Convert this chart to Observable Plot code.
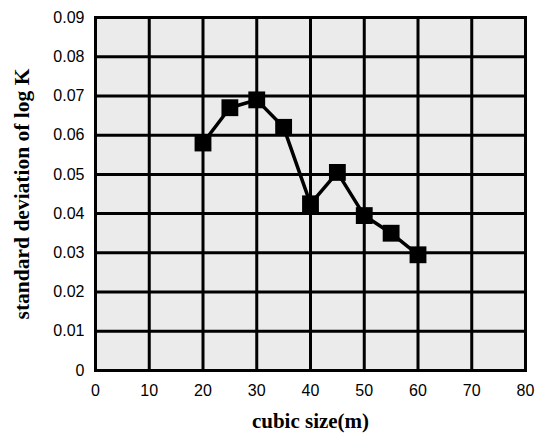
<!DOCTYPE html>
<html>
<head>
<meta charset="utf-8">
<script src="https://cdn.jsdelivr.net/npm/d3@7"></script>
<script src="https://cdn.jsdelivr.net/npm/@observablehq/plot@0.6"></script>
<style>
  html, body { margin: 0; padding: 0; background: white; }
</style>
</head>
<body>
<div id="chart"></div>
<script>
const cubicSize = [20, 25, 30, 35, 40, 45, 50, 55, 60];
const stdLogK = [0.058, 0.067, 0.069, 0.062, 0.0425, 0.0505, 0.0395, 0.035, 0.0295];
const xTicks = [0, 10, 20, 30, 40, 50, 60, 70, 80];
const yTicks = [0, 0.01, 0.02, 0.03, 0.04, 0.05, 0.06, 0.07, 0.08, 0.09];
const xLabel = "cubic size(m)";
const yLabel = "standard deviation of log K";

const data = cubicSize.map((x, i) => ({x, y: stdLogK[i]}));

const chart = Plot.plot({
  width: 535,
  height: 437,
  marginLeft: 95,
  marginRight: 10,
  marginTop: 17,
  marginBottom: 67,
  style: {fontFamily: "'Liberation Sans', Arial, sans-serif", fontSize: "16px", color: "black", background: "white"},
  x: {domain: [0, 80]},
  y: {domain: [0, 0.09]},
  marks: [
    Plot.frame({fill: "#ebebeb"}),
    Plot.ruleX(xTicks, {stroke: "black", strokeWidth: 3}),
    Plot.ruleY(yTicks, {stroke: "black", strokeWidth: 3}),
    Plot.frame({stroke: "black", strokeWidth: 3}),
    Plot.line(data, {x: "x", y: "y", stroke: "black", strokeWidth: 3.5}),
    Plot.dot(data, {x: "x", y: "y", symbol: "square", r: 9.5, fill: "black", stroke: "none"}),
    Plot.axisX(xTicks, {tickSize: 0, tickPadding: 14, label: null, tickFormat: d => String(d), fontSize: 16}),
    Plot.axisY(yTicks, {tickSize: 0, tickPadding: 11, label: null, tickFormat: d => d === 0 ? "0" : d.toFixed(2), fontSize: 16}),
    Plot.text([xLabel], {frameAnchor: "bottom", dy: 57, text: d => d, fontFamily: "'Liberation Serif', 'Times New Roman', serif", fontWeight: "bold", fontSize: 21}),
    Plot.text([yLabel], {frameAnchor: "left", dx: -73, rotate: -90, textAnchor: "middle", text: d => d, fontFamily: "'Liberation Serif', 'Times New Roman', serif", fontWeight: "bold", fontSize: 21.5})
  ]
});
document.getElementById("chart").appendChild(chart);
</script>
</body>
</html>
